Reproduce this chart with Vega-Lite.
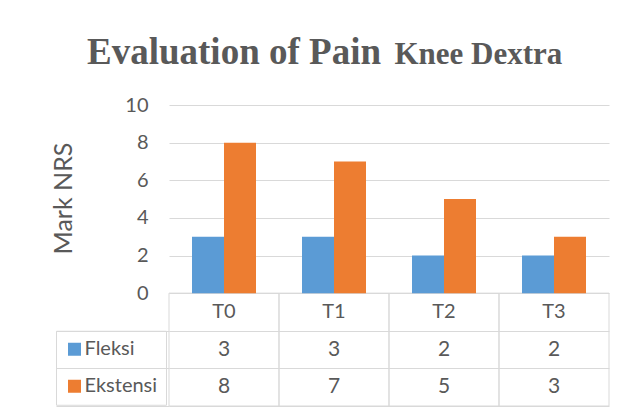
{
  "$schema": "https://vega.github.io/schema/vega-lite/v6.json",
  "width": 440,
  "height": 301,
  "autosize": {"type": "none"},
  "padding": {"left": 169, "top": 105, "right": 20, "bottom": 12},
  "background": "white",
  "config": {"view": {"stroke": null}},
  "title": {
    "text": "Evaluation of Pain",
    "anchor": "start",
    "frame": "group",
    "dx": -82,
    "dy": 63,
    "offset": 0,
    "font": "Liberation Serif",
    "fontSize": 37,
    "fontWeight": "bold",
    "color": "#595959",
    "baseline": "alphabetic"
  },
  "resolve": {"axis": {"y": "independent"}},
  "data": {
    "values": [
      {"T": "T0", "series": "Fleksi", "value": 3},
      {"T": "T1", "series": "Fleksi", "value": 3},
      {"T": "T2", "series": "Fleksi", "value": 2},
      {"T": "T3", "series": "Fleksi", "value": 2},
      {"T": "T0", "series": "Ekstensi", "value": 8},
      {"T": "T1", "series": "Ekstensi", "value": 7},
      {"T": "T2", "series": "Ekstensi", "value": 5},
      {"T": "T3", "series": "Ekstensi", "value": 3}
    ]
  },
  "encoding": {
    "x": {
      "field": "T",
      "type": "nominal",
      "sort": ["T0", "T1", "T2", "T3"],
      "scale": {"domain": ["T0", "T1", "T2", "T3"], "paddingInner": 0, "paddingOuter": 0},
      "axis": {
        "orient": "top",
        "domain": false,
        "ticks": false,
        "labels": false,
        "grid": false,
        "title": "Knee Dextra",
        "titleFont": "Liberation Serif",
        "titleFontSize": 31,
        "titleFontWeight": "bold",
        "titleColor": "#595959",
        "titleX": 225,
        "titleY": -42,
        "titleAlign": "left",
        "titleBaseline": "alphabetic",
        "titleAngle": 0
      }
    }
  },
  "layer": [
    {
      "transform": [{"filter": "datum.series == 'Fleksi'"}],
      "mark": {"type": "rect", "fillOpacity": 0, "stroke": "#d9d9d9", "strokeWidth": 1},
      "encoding": {
        "y": {"datum": 0, "type": "quantitative", "axis": null},
        "y2": {"datum": -6}
      }
    },
    {
      "mark": {"type": "bar"},
      "encoding": {
        "xOffset": {
          "field": "series",
          "type": "nominal",
          "sort": ["Fleksi", "Ekstensi"],
          "scale": {"domain": ["Fleksi", "Ekstensi"], "paddingInner": 0, "paddingOuter": 0.71875}
        },
        "y": {
          "field": "value",
          "type": "quantitative",
          "stack": null,
          "scale": {"domain": [-6, 10], "nice": false, "zero": false},
          "axis": {
            "orient": "left",
            "title": "Mark NRS",
            "titleFont": "Lato",
            "titleFontSize": 25,
            "titleFontWeight": "normal",
            "titleColor": "#595959",
            "titleX": -106,
            "titleY": 93,
            "titleAngle": -90,
            "titleAlign": "center",
            "titleBaseline": "middle",
            "values": [-6, -4, -2, 0, 2, 4, 6, 8, 10],
            "grid": true,
            "gridColor": "#d9d9d9",
            "domain": false,
            "ticks": true,
            "tickSize": 113,
            "tickColor": {"condition": {"test": "datum.value < 0", "value": "#d9d9d9"}, "value": "transparent"},
            "labelExpr": "datum.value >= 0 ? datum.label : ''",
            "labelPadding": -92,
            "labelFont": "Lato",
            "labelFontSize": 20,
            "labelColor": "#595959",
            "labelBaseline": "middle",
            "labelOverlap": false
          }
        },
        "y2": {"datum": 0},
        "color": {
          "field": "series",
          "type": "nominal",
          "sort": ["Fleksi", "Ekstensi"],
          "scale": {"domain": ["Fleksi", "Ekstensi"], "range": ["#5B9BD5", "#ED7D31"]},
          "legend": {
            "orient": "none",
            "legendX": -113,
            "legendY": 225.75,
            "direction": "vertical",
            "title": null,
            "symbolType": "square",
            "symbolSize": 169,
            "symbolStrokeWidth": 0,
            "labelFont": "Lato",
            "labelFontSize": 20,
            "labelColor": "#595959",
            "labelOffset": 0,
            "padding": 8.5,
            "rowPadding": 17,
            "strokeColor": "#d9d9d9"
          }
        }
      }
    },
    {
      "transform": [{"filter": "datum.series == 'Fleksi'"}],
      "mark": {"type": "text", "font": "Lato", "fontSize": 20, "color": "#595959"},
      "encoding": {
        "y": {"datum": -1, "type": "quantitative", "axis": null},
        "text": {"field": "T"}
      }
    },
    {
      "transform": [{"filter": "datum.series == 'Fleksi'"}],
      "mark": {"type": "text", "font": "Lato", "fontSize": 21, "color": "#595959"},
      "encoding": {
        "y": {"datum": -3, "type": "quantitative", "axis": null},
        "text": {"field": "value"}
      }
    },
    {
      "transform": [{"filter": "datum.series == 'Ekstensi'"}],
      "mark": {"type": "text", "font": "Lato", "fontSize": 21, "color": "#595959"},
      "encoding": {
        "y": {"datum": -5, "type": "quantitative", "axis": null},
        "text": {"field": "value"}
      }
    }
  ]
}
